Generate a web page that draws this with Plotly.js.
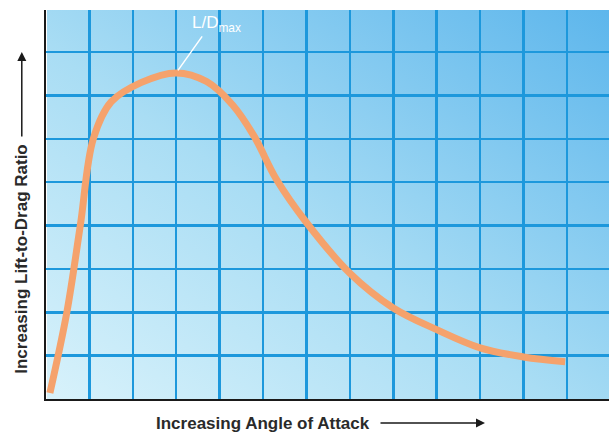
<!DOCTYPE html>
<html>
<head>
<meta charset="utf-8">
<script src="https://cdn.plot.ly/plotly-3.0.1.min.js"></script>
<style>
  html, body { margin: 0; padding: 0; background: #ffffff; }
  #wrap { position: relative; width: 609px; height: 435px; }
  #bg { position: absolute; left: 47px; top: 10px; width: 562px; height: 389px;
        background: linear-gradient(to top right, #d8f2fb 0%, #a9ddf4 45%, #5db6ec 100%); }
  #chart { position: absolute; left: 0; top: 0; width: 609px; height: 435px; }
</style>
</head>
<body>
<div id="wrap"><div id="bg"></div><div id="chart"></div></div>
<script>
// Angle of attack (grid units) and lift-to-drag ratio (grid units)
const angleOfAttack = [0.09, 0.48, 0.79, 1.09, 1.50, 2.20, 3.0, 3.70, 4.30, 4.80, 5.30, 6.0, 7.0, 8.0, 9.0, 10.0, 11.0, 11.96];
const liftToDrag    = [0.14, 2.0, 4.0, 6.0, 6.85, 7.30, 7.52, 7.32, 6.78, 6.05, 5.08, 4.07, 2.9, 2.1, 1.6, 1.18, 0.97, 0.86];
const peakLabel = 'L/D<sub>max</sub>';
const xTitle = 'Increasing Angle of Attack';
const yTitle = 'Increasing Lift-to-Drag Ratio';

const font = 'Liberation Sans, Arial, sans-serif';
const peakIdx = liftToDrag.indexOf(Math.max(...liftToDrag));

const trace = {
  x: angleOfAttack, y: liftToDrag, type: 'scatter', mode: 'lines',
  line: { color: '#f5a26c', width: 7, shape: 'spline', smoothing: 1.0 },
  hoverinfo: 'skip'
};

const layout = {
  width: 609, height: 435,
  margin: { l: 46, r: 0, t: 10, b: 36 },
  paper_bgcolor: 'rgba(0,0,0,0)', plot_bgcolor: 'rgba(0,0,0,0)',
  showlegend: false,
  xaxis: { range: [0, 12.97], dtick: 1, tick0: 0, showticklabels: false, ticks: '',
           showgrid: true, gridcolor: '#1d98dc', gridwidth: 2.5, zeroline: false,
           showline: true, linecolor: '#1a1a1a', linewidth: 2, fixedrange: true },
  yaxis: { range: [0, 8.97], dtick: 1, tick0: 0, showticklabels: false, ticks: '',
           showgrid: true, gridcolor: '#1d98dc', gridwidth: 2.5, zeroline: false,
           showline: true, linecolor: '#1a1a1a', linewidth: 2, fixedrange: true },
  annotations: [
    { x: angleOfAttack[peakIdx], y: liftToDrag[peakIdx], xref: 'x', yref: 'y',
      text: '', showarrow: true, arrowhead: 0, arrowwidth: 1.5, arrowcolor: '#ffffff',
      ax: 27, ay: -38, standoff: 3 },
    { x: 3.93, y: 8.64, xref: 'x', yref: 'y', xanchor: 'center', yanchor: 'middle',
      text: peakLabel, showarrow: false,
      font: { family: font, size: 17, color: '#ffffff' } },
    { x: (263 - 46) / 563, y: -0.0617, xref: 'paper', yref: 'paper', xanchor: 'center', yanchor: 'middle',
      text: xTitle, showarrow: false,
      font: { family: font, size: 17, weight: 'bold', color: '#2a2a2a' } },
    { x: (485 - 46) / 563, y: -0.0617, xref: 'paper', yref: 'paper', text: '', showarrow: true,
      ax: -106, ay: 0, arrowhead: 2, arrowsize: 1.2,
      arrowwidth: 1.5, arrowcolor: '#1a1a1a' },
    { x: -0.043, y: 0.36, xref: 'paper', yref: 'paper', textangle: -90,
      xanchor: 'center', yanchor: 'middle', text: yTitle, showarrow: false,
      font: { family: font, size: 17, weight: 'bold', color: '#2a2a2a' } },
    { x: -0.043, y: 0.892, xref: 'paper', yref: 'paper', text: '', showarrow: true,
      ax: 0, ay: 86, arrowhead: 2, arrowsize: 1.2, arrowwidth: 1.5, arrowcolor: '#1a1a1a' }
  ]
};

Plotly.newPlot('chart', [trace], layout, { displayModeBar: false, staticPlot: true });
</script>
</body>
</html>
